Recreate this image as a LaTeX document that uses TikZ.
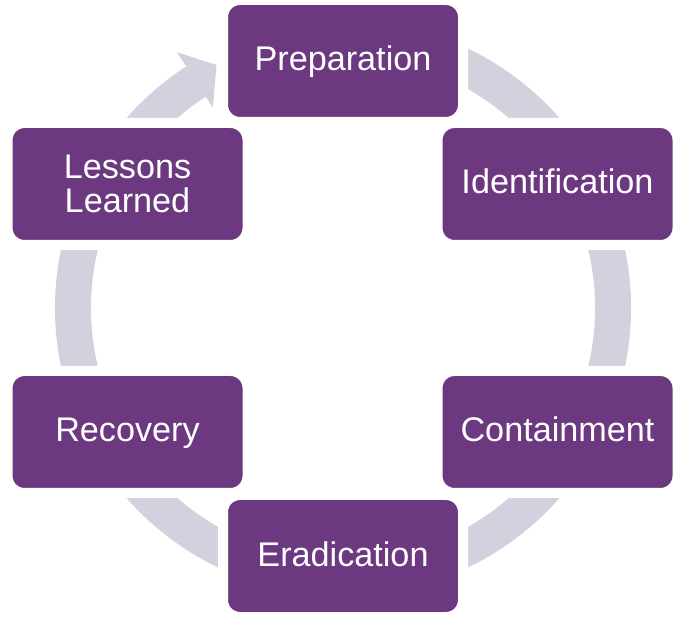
\documentclass[tikz,border=0pt]{standalone}
\usepackage{fontspec}
\setmainfont{Liberation Sans}
\usetikzlibrary{calc}
\definecolor{boxpurple}{RGB}{108,57,128}
\definecolor{ringgray}{RGB}{212,208,221}
\tikzset{
  phase/.style={draw=white, line width=10pt, fill=boxpurple, rounded corners=17pt,
    minimum width=240pt, minimum height=122pt, inner sep=0pt, text=white,
    font=\fontsize{34.2pt}{34pt}\selectfont},
  oneline/.style={text height=22pt, text depth=2pt},
  ring/.style={draw=ringgray, line width=36pt, line cap=butt}
}
\begin{document}
\begin{tikzpicture}[x=1pt,y=1pt]
\useasboundingbox (0,0) rectangle (682,618);
\coordinate (C) at (343,310);
% ring with arrowhead
\draw[ring] (C) ++(112:270) arc[start angle=112, end angle=-237, radius=270];
\fill[ringgray] ($(C)+(123:305)$) -- ($(C)+(117.5:274)$) -- ($(C)+(123:239)$) -- cycle;
% phases
\node[phase, oneline] (prep) at (343,557) {Preparation};
\node[phase, oneline] (ident) at (557.5,434) {Identification};
\node[phase, oneline] (cont) at (557.5,186) {Containment};
\node[phase, oneline] (erad) at (343,62) {Eradication};
\node[phase, oneline] (recov) at (127.5,186) {Recovery};
\node[phase, align=center] (lessons) at (127.5,434) {Lessons\\Learned};
\end{tikzpicture}
\end{document}
